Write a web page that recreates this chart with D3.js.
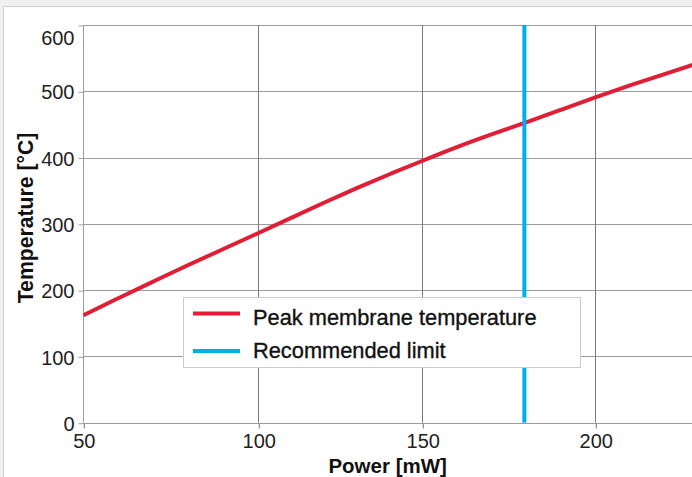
<!DOCTYPE html>
<html><head><meta charset="utf-8">
<script src="https://cdn.jsdelivr.net/npm/d3@7/dist/d3.min.js"></script>
<style>
html,body{margin:0;padding:0;background:#f0f0f0;}
svg{display:block;font-family:"Liberation Sans",Arial,Helvetica,sans-serif;}
</style></head><body>
<svg id="chart" width="692" height="477"></svg>
<script>
// ---- data ----
const powerValues = [50,60,70,80,90,100,110,120,130,140,150,160,170,180,190,200,210,220,230];
const peakTemperature = [162,188,213,238,262,286,309,332,354,375,395,416,435,453,472,491,509,526,543];
const recommendedLimit = 179.5;
const xTicks = [50,100,150,200];
const yTicks = [0,100,200,300,400,500,600];
const seriesNames = ["Peak membrane temperature","Recommended limit"];
const seriesColors = ["#e01f36","#00aeef"];

const svg = d3.select("#chart");
const W = 692, H = 477;
const plot = {left:83.3, top:25, right:692, bottom:422.7};

// panel
svg.append("rect").attr("x",0).attr("y",0).attr("width",W).attr("height",H).attr("fill","#f0f0f0");
svg.append("rect").attr("x",3.5).attr("y",6.5).attr("width",W).attr("height",H).attr("fill","#fff").attr("stroke","#cfcfcf").attr("stroke-width",1);

// scales (gridlines in the reference are not perfectly evenly spaced)
const x = d3.scaleLinear().domain([50,100,150,200]).range([83.3,258.3,422.3,595.3]);
const y = d3.scaleLinear().domain([0,600]).range([plot.bottom, plot.top]);

// gridlines
const g = svg.append("g");
g.selectAll("line.h").data(yTicks).join("line")
  .attr("x1",plot.left).attr("x2",plot.right)
  .attr("y1",d=>Math.round(y(d))+0.5).attr("y2",d=>Math.round(y(d))+0.5)
  .attr("stroke","#9c9c9c").attr("stroke-width",1);
g.selectAll("line.v").data(xTicks).join("line")
  .attr("x1",d=>Math.round(x(d))+0.5).attr("x2",d=>Math.round(x(d))+0.5)
  .attr("y1",plot.top).attr("y2",plot.bottom)
  .attr("stroke",d=>d===50?"#9c9c9c":"#7a7a7a").attr("stroke-width",1);

// axes
const yAxis = d3.axisLeft(y).tickValues(yTicks).tickSize(5).tickPadding(4);
const ya = svg.append("g").attr("transform",`translate(${Math.round(plot.left)+0.5},0.5)`).call(yAxis);
ya.select(".domain").remove();
ya.selectAll(".tick line").attr("stroke","#9c9c9c");
ya.selectAll(".tick text").attr("font-size",20).attr("fill","#222")
  .attr("font-family","Liberation Sans, Arial, sans-serif")
  .attr("dy",d=>d===600?"0.95em":"0.36em");

const xAxis = d3.axisBottom(x).tickValues(xTicks).tickSize(5).tickPadding(5);
const xa = svg.append("g").attr("transform",`translate(0.5,${Math.round(plot.bottom)+0.5})`).call(xAxis);
xa.select(".domain").remove();
xa.selectAll(".tick line").attr("stroke","#7a7a7a");
xa.selectAll(".tick text").attr("font-size",20).attr("fill","#222")
  .attr("font-family","Liberation Sans, Arial, sans-serif");

// clip
svg.append("clipPath").attr("id","clip").append("rect")
  .attr("x",plot.left).attr("y",plot.top-3).attr("width",plot.right-plot.left).attr("height",plot.bottom-plot.top+3);

const pts = powerValues.map((p,i)=>[p,peakTemperature[i]]);
svg.append("path").datum(pts)
  .attr("clip-path","url(#clip)")
  .attr("d",d3.line().x(d=>x(d[0])).y(d=>y(d[1])).curve(d3.curveBasis))
  .attr("fill","none").attr("stroke",seriesColors[0]).attr("stroke-width",4);

svg.append("line")
  .attr("x1",x(recommendedLimit)).attr("x2",x(recommendedLimit))
  .attr("y1",y(600)).attr("y2",y(0))
  .attr("stroke",seriesColors[1]).attr("stroke-width",4);

// axis titles
svg.append("text").attr("x",(plot.left+plot.right)/2).attr("y",472.5)
  .attr("text-anchor","middle").attr("font-size",20.5).attr("font-weight","bold").attr("fill","#111")
  .text("Power [mW]");
svg.append("text").attr("transform","translate(33.3,218) rotate(-90)")
  .attr("text-anchor","middle").attr("font-size",21.2).attr("font-weight","bold").attr("fill","#111")
  .text("Temperature [°C]");

// legend
const lg = svg.append("g");
lg.append("rect").attr("x",183.5).attr("y",297.5).attr("width",397).attr("height",70)
  .attr("fill","#fff").attr("stroke","#cccccc");
const legY = [313.5,351];
const legTextY = [324.5,358];
seriesNames.forEach((n,i)=>{
  lg.append("line").attr("x1",193).attr("x2",240).attr("y1",legY[i]).attr("y2",legY[i])
    .attr("stroke",seriesColors[i]).attr("stroke-width",4);
  lg.append("text").attr("x",253).attr("y",legTextY[i]).attr("font-size",21.8).attr("fill","#111")
    .attr("stroke","#111").attr("stroke-width",0.35)
    .text(n);
});
</script>
</body></html>
